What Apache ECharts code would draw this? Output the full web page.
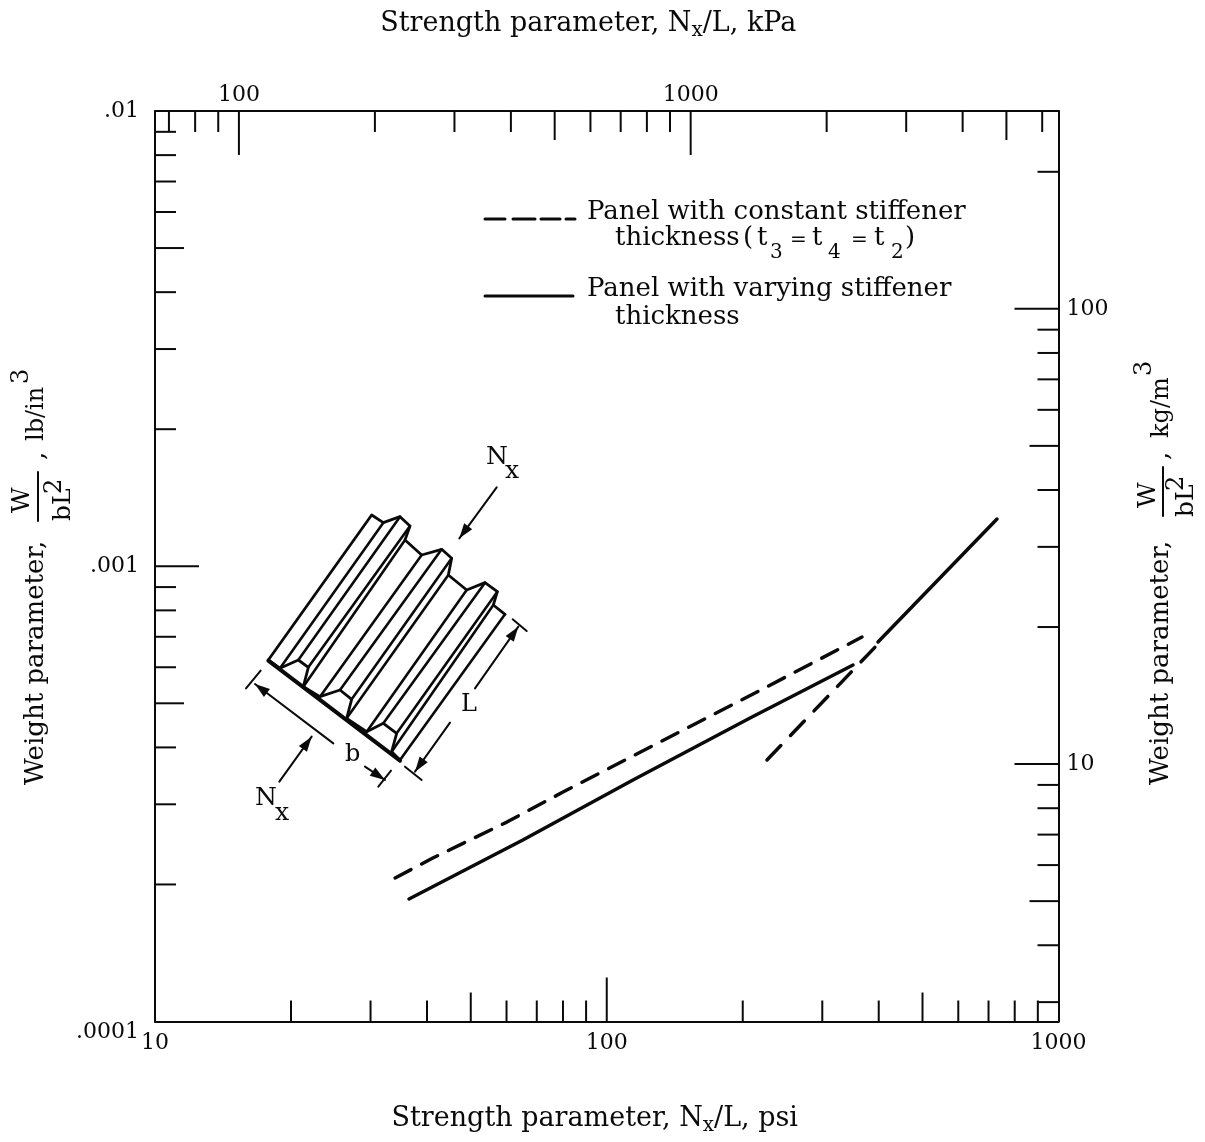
<!DOCTYPE html>
<html>
<head>
<meta charset="utf-8">
<style>html,body{margin:0;padding:0;background:#fff}#c{width:1205px;height:1142px}</style>
<script src="https://cdn.jsdelivr.net/npm/echarts@6/dist/echarts.min.js"></script>
</head>
<body>
<div id="c"></div>
<script>
// ---- data ----
var psiLimits = [10, 1000];
var kpaLimits = [65.2, 6520];
var lbLimits = [0.0001, 0.01];
var kgLimits = [2.72, 272];

var psiTicks = [20,30,40,50,60,70,80,90,100,200,300,400,500,600,700,800,900];
var kpaTicks = [70,80,90,100,200,300,400,500,600,700,800,900,1000,2000,3000,4000,5000,6000];
var lbTicks = [0.009,0.008,0.007,0.006,0.005,0.004,0.003,0.002,0.001,0.0009,0.0008,0.0007,0.0006,0.0005,0.0004,0.0003,0.0002];
var kgTicks = [200,100,90,80,70,60,50,40,30,20,10,9,8,7,6,5,4,3];

var psiLabels = [10,100,1000];
var kpaLabels = [100,1000];
var lbLabels = [0.01,0.001,0.0001];
var kgLabels = [100,10];

var constantPsi = [34.0,41.2,60.1,80.0,212.9,367.3];
var constantLb  = [2.066e-4,2.286e-4,2.742e-4,3.192e-4,5.266e-4,6.99e-4];
var constantSteepPsi = [226.3,402.7];
var constantSteepLb  = [3.753e-4,6.82e-4];
var varyingPsi = [36.5,65.2,114.3,207.6,350.9];
var varyingLb  = [1.858e-4,2.505e-4,3.393e-4,4.642e-4,6.07e-4];
var varyingSteepPsi = [398.5,730.9];
var varyingSteepLb  = [6.82e-4,1.27e-3];

// ---- styling helpers ----
var FF = '"DejaVu Serif"';
var INK = '#0a0a0a';
function pairs(a,b){return a.map(function(v,i){return [v,b[i]];});}
function tickLen(v){
  var e=Math.floor(Math.log10(v)+1e-9), m=Math.round(v/Math.pow(10,e));
  return m===1?44:(m===5?29:21);
}
function inList(list,v){return list.some(function(k){return Math.abs(k-v)/k<1e-6;});}
function tickSeries(name,values,xi,yi,side){
  var isX=side==='bottom'||side==='top';
  var anchor=side==='bottom'?lbLimits[0]:side==='top'?lbLimits[1]:side==='left'?psiLimits[0]:psiLimits[1];
  return {
    name:name,type:'custom',xAxisIndex:xi,yAxisIndex:yi,silent:true,clip:false,z:3,
    data:values.map(function(v){return isX?[v,anchor]:[anchor,v];}),
    renderItem:function(p,api){
      var pt=api.coord([api.value(0),api.value(1)]);
      var L=tickLen(isX?api.value(0):api.value(1));
      var dx=side==='left'?L:side==='right'?-L:0, dy=side==='top'?L:side==='bottom'?-L:0;
      return {type:'line',shape:{x1:pt[0],y1:pt[1],x2:pt[0]+dx,y2:pt[1]+dy},
        style:{stroke:INK,lineWidth:2,fill:null}};
    }
  };
}
function curve(name,x,y,dash){
  return {name:name,type:'line',xAxisIndex:0,yAxisIndex:0,data:pairs(x,y),showSymbol:false,symbol:'none',
    silent:true,z:4,lineStyle:{color:INK,width:3.5,type:dash||'solid',cap:'round'}};
}
function axisBase(lim){
  return {type:'log',logBase:10,min:lim[0],max:lim[1],splitLine:{show:false},minorTick:{show:false},minorSplitLine:{show:false},
    axisTick:{show:false},axisLine:{show:true,onZero:false,lineStyle:{color:INK,width:2}}};
}
function labelFmt(list,fmt){return function(v){return inList(list,v)?(fmt?fmt(v):String(Math.round(v))):'';};}
function lbFmt(v){return v.toFixed(4).replace('0.','.').replace(/0+$/,'');}

// ---- graphic text helpers ----
var TXT=26;
function horiz(t,x,base,size,align){
  return {type:'text',x:x,y:base-0.33*size,silent:true,z:10,
    style:{text:t,fill:INK,fontFamily:FF,fontSize:size,align:align||'left',verticalAlign:'middle'}};
}
function vert(t,base,y,size){
  return {type:'text',x:base-0.33*size,y:y,rotation:Math.PI/2,silent:true,z:10,
    style:{text:t,fill:INK,fontFamily:FF,fontSize:size,align:'left',verticalAlign:'middle'}};
}
function seg(x1,y1,x2,y2,w){
  return {type:'line',silent:true,z:10,shape:{x1:x1,y1:y1,x2:x2,y2:y2},style:{stroke:INK,lineWidth:w||2,lineCap:'round'}};
}
// the panel sketch, traced in 3x zoom units around (230,430)
function zx(v){return 230+v/3;}
function zy(v){return 430+v/3;}
function poly(points,w){
  return {type:'polyline',silent:true,z:10,shape:{points:points.map(function(p){return [zx(p[0]),zy(p[1])];})},
    style:{stroke:INK,fill:null,lineWidth:w||2.4,lineJoin:'round',lineCap:'round'}};
}
function arrow(a,b){
  var x1=zx(a[0]),y1=zy(a[1]),x2=zx(b[0]),y2=zy(b[1]);
  var d=Math.hypot(x2-x1,y2-y1),ux=(x2-x1)/d,uy=(y2-y1)/d,L=15,W=5;
  return [seg(x1,y1,x2,y2,2),
    {type:'polygon',silent:true,z:10,shape:{points:[[x2,y2],[x2-ux*L-uy*W,y2-uy*L+ux*W],[x2-ux*L+uy*W,y2-uy*L-ux*W]]},style:{fill:INK}}];
}
var backProfile=[[460,278],[510,260],[540,288],[525,330],[575,375],[635,358],[665,385],[655,435],[710,480],[765,458],[802,485],[790,525],[825,553]];
var frontProfile=[[150,715],[205,690],[235,712],[220,770],[270,800],[330,780],[365,808],[350,865],[410,905],[460,880],[500,910],[485,965],[510,990]];

var sketch=[];
sketch.push(poly([[115,690],[425,255],[460,278]].concat(backProfile.slice(1)),2.8));
backProfile.forEach(function(p,i){sketch.push(poly([p,frontProfile[i]],2.6));});
sketch.push(poly([[115,690]].concat(frontProfile),2.8));
sketch.push(poly([[115,692],[510,992]],4));
sketch=sketch.concat(
  poly([[48,775],[92,722]],2),poly([[445,1070],[483,1022]],2),
  poly([[848,568],[890,603]],2),poly([[525,1010],[575,1050]],2),
  arrow([310,940],[75,762]),arrow([405,1010],[465,1050]),
  arrow([735,775],[865,590]),arrow([660,878],[555,1025]),
  arrow([800,172],[688,325]),arrow([148,1055],[245,920])
);
var sketchText=[
  horiz('N',486,466,25),horiz('x',505,480,25),
  horiz('N',255,807,25),horiz('x',275,822,25),
  horiz('b',345,763,24),horiz('L',461,713,24)
];
var legendGraphics=[
  seg(485,219,505,219,3),seg(513,219,535,219,3),seg(541,219,560,219,3),seg(566,219,575,219,3),
  seg(485,296,573,296,3),
  horiz('Panel with constant stiffener',587,221,TXT),
  horiz('thickness',615,247,TXT),horiz('(',743,247,TXT),horiz('t',757,247,TXT),horiz('3',770,259,20),horiz('=',790,247,20),
  horiz('t',812,247,TXT),horiz('4',828,259,20),horiz('=',851,247,20),horiz('t',874,247,TXT),horiz('2',891,259,20),horiz(')',905,247,TXT),
  horiz('Panel with varying stiffener',587,298,TXT),
  horiz('thickness',615,326,TXT)
];
var yTitles=[
  vert('Weight parameter,',45,785,TXT),
  vert('W',31,513,25),seg(38,521,38,472,2),vert('bL',72,521,25),vert('2',63,494,24),
  vert(',',46,460,TXT),vert('lb/in',45,441,24),vert('3',30,384,24),
  vert('Weight parameter,',1170,785,TXT),
  vert('W',1157,508,25),seg(1163,516,1163,467,2),vert('bL',1195,517,25),vert('2',1185,491,24),
  vert(',',1170,460,TXT),vert('kg/m',1170,438,24),vert('3',1153,376,24)
];

var nameRich={n:{fontFamily:FF,fontSize:27,color:INK},s:{fontFamily:FF,fontSize:20,color:INK,padding:[14,0,0,0]}};
var x0=axisBase(psiLimits);
x0.position='bottom';
x0.name='{n|Strength parameter, N}{s|x}{n|/L, psi}';x0.nameLocation='middle';x0.nameGap=80;
x0.nameTextStyle={rich:nameRich,padding:[0,24,0,0]};
x0.axisLabel={show:true,margin:11,color:INK,fontFamily:FF,fontSize:22,hideOverlap:false,showMinLabel:true,showMaxLabel:true,formatter:labelFmt(psiLabels)};
var x1=axisBase(kpaLimits);
x1.position='top';
x1.name='{n|Strength parameter, N}{s|x}{n|/L, kPa}';x1.nameLocation='middle';x1.nameGap=70;
x1.nameTextStyle={rich:nameRich,padding:[0,37,0,0]};
x1.axisLabel={show:true,margin:5,color:INK,fontFamily:FF,fontSize:22,formatter:labelFmt(kpaLabels)};
var y0=axisBase(lbLimits);
y0.position='left';
y0.axisLabel={show:true,margin:16,color:INK,fontFamily:FF,fontSize:22,showMinLabel:true,showMaxLabel:true,verticalAlignMinLabel:'top',formatter:labelFmt(lbLabels,lbFmt)};
var y1=axisBase(kgLimits);
y1.position='right';
y1.axisLabel={show:true,margin:8,color:INK,fontFamily:FF,fontSize:22,formatter:labelFmt(kgLabels)};

var chart=echarts.init(document.getElementById('c'),null,{renderer:'canvas'});
chart.setOption({
  animation:false,
  backgroundColor:'#fff',
  grid:{left:155,right:146.5,top:111,bottom:120.5,containLabel:false,outerBoundsMode:'none'},
  xAxis:[x0,x1],
  yAxis:[y0,y1],
  series:[
    curve('Panel with constant stiffener thickness',constantPsi,constantLb,[18,12]),
    curve('Panel with constant stiffener thickness, steep branch',constantSteepPsi,constantSteepLb,[20,14]),
    curve('Panel with varying stiffener thickness',varyingPsi,varyingLb),
    curve('Panel with varying stiffener thickness, steep branch',varyingSteepPsi,varyingSteepLb),
    tickSeries('psi ticks',psiTicks,0,0,'bottom'),
    tickSeries('kPa ticks',kpaTicks,1,0,'top'),
    tickSeries('lb/in3 ticks',lbTicks,0,0,'left'),
    tickSeries('kg/m3 ticks',kgTicks,0,1,'right')
  ],
  graphic:{elements:[].concat(sketch,sketchText,legendGraphics,yTitles)}
});
</script>
</body>
</html>
